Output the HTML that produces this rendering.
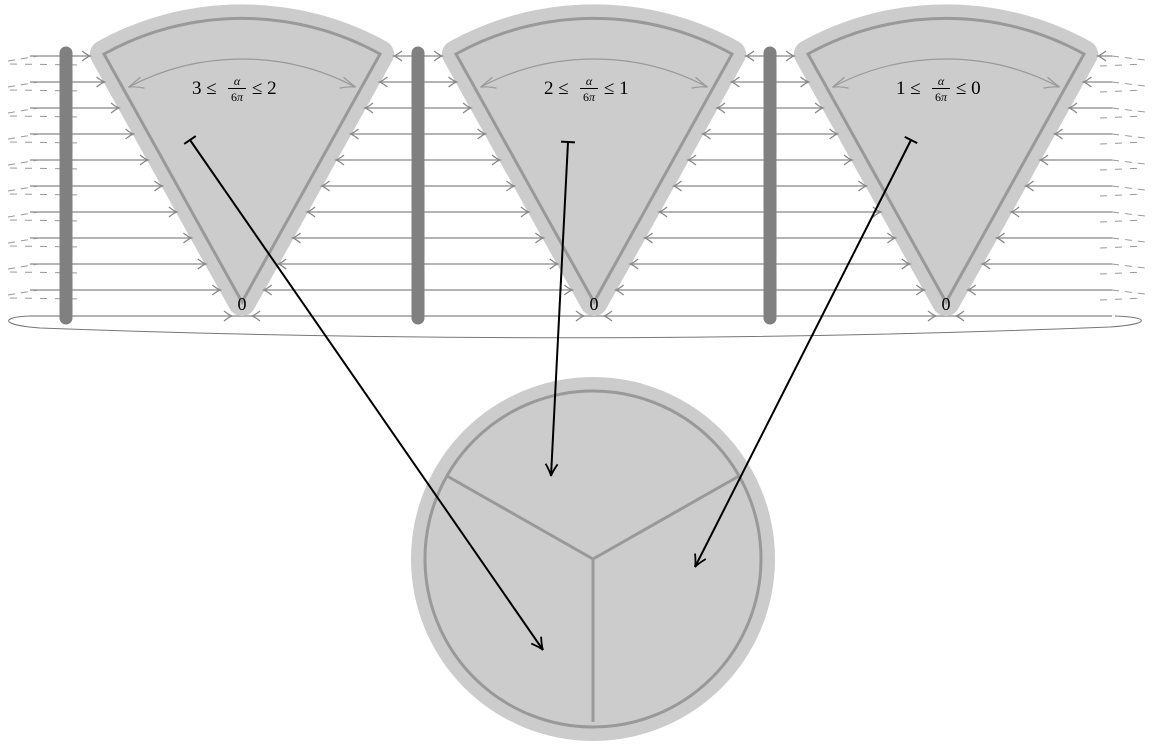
<!DOCTYPE html>
<html><head><meta charset="utf-8">
<style>
html,body{margin:0;padding:0;background:#fff;width:1153px;height:746px;overflow:hidden}
svg{display:block}
text{font-family:"Liberation Serif",serif;fill:#000}
</style></head>
<body>
<svg id="s" width="1153" height="746" xmlns="http://www.w3.org/2000/svg"></svg>
<script>
var s=document.getElementById('s');var h='';
var AY=302,R=285,DX=138,DY=248;
var cxs=[242,594,946],bars=[66,418,770];
var ys=[];for(var i=0;i<11;i++)ys.push(56+26*i);
ys.forEach(function(y,i){
 h+='<line x1="30" y1="'+y+'" x2="1112" y2="'+y+'" stroke="#888" stroke-width="1.3"/>';
 if(i<10){
 h+='<path d="M8 '+(y+5)+' L45 '+(y-1)+'" stroke="#999" stroke-width="1" stroke-dasharray="7 6" fill="none"/>';
 h+='<line x1="10" y1="'+(y+8)+'" x2="82" y2="'+(y+9)+'" stroke="#999" stroke-width="1" stroke-dasharray="7 8"/>';
 h+='<path d="M1112 '+y+' L1145 '+(y+4)+'" stroke="#999" stroke-width="1" stroke-dasharray="7 6" fill="none"/>';
 h+='<line x1="1100" y1="'+(y+10)+'" x2="1145" y2="'+(y+8)+'" stroke="#999" stroke-width="1" stroke-dasharray="7 8"/>';
 }
});
h+='<path d="M1115 316 C1150 317 1152 324 1110 327 Q580 348 40 328 C0 325 0 317 30 316" fill="none" stroke="#777" stroke-width="1"/>';
cxs.forEach(function(cx){
 var L=(cx-DX)+','+(AY-DY),Rt=(cx+DX)+','+(AY-DY);
 var d='M'+cx+','+AY+' L'+L+' A'+R+','+R+' 0 0 1 '+Rt+' Z';
 h+='<path d="'+d+'" fill="#ccc" stroke="#ccc" stroke-width="28" stroke-linejoin="round"/>';
 h+='<path d="'+d+'" fill="#ccc" stroke="#999" stroke-width="3" stroke-linejoin="miter"/>';
 var r2=243,a=0.486;
 var x1=cx-r2*Math.sin(a),y1=AY-r2*Math.cos(a),x2=cx+r2*Math.sin(a);
 h+='<path d="M'+x1+','+y1+' A'+r2+','+r2+' 0 0 1 '+x2+','+y1+'" fill="none" stroke="#999" stroke-width="1.2"/>';
 h+='<path d="M'+(x1+12)+','+(y1-10)+' Q'+(x1+4)+','+(y1-3)+' '+x1+','+y1+' Q'+(x1+7)+','+(y1-1)+' '+(x1+16)+','+(y1+1)+'" fill="none" stroke="#999" stroke-width="1.2"/>';
 h+='<path d="M'+(x2-12)+','+(y1-10)+' Q'+(x2-4)+','+(y1-3)+' '+x2+','+y1+' Q'+(x2-7)+','+(y1-1)+' '+(x2-16)+','+(y1+1)+'" fill="none" stroke="#999" stroke-width="1.2"/>';
 ys.forEach(function(y){
  var t=(y-(AY-DY))/DY;if(t<0)t=0;
  var xl=cx-DX+DX*t-15, xr=cx+DX-DX*t+15;
  if(y>=312){xl=cx-10;xr=cx+10;}
  h+='<path d="M'+(xl-8)+','+(y-5)+' Q'+(xl-3)+','+(y-1)+' '+xl+','+y+' Q'+(xl-3)+','+(y+1)+' '+(xl-8)+','+(y+5)+'" fill="none" stroke="#888" stroke-width="1.2"/>';
  h+='<path d="M'+(xr+8)+','+(y-5)+' Q'+(xr+3)+','+(y-1)+' '+xr+','+y+' Q'+(xr+3)+','+(y+1)+' '+(xr+8)+','+(y+5)+'" fill="none" stroke="#888" stroke-width="1.2"/>';
 });
 h+='<text x="'+cx+'" y="310" font-size="18" text-anchor="middle">0</text>';
});
bars.forEach(function(x){h+='<line x1="'+x+'" y1="53" x2="'+x+'" y2="318" stroke="#808080" stroke-width="13" stroke-linecap="round"/>';});
var labs=[['3','2'],['2','1'],['1','0']];
cxs.forEach(function(cx,i){
 var x=cx-50;
 h+='<text x="'+x+'" y="94" font-size="19">'+labs[i][0]+' ≤</text>';
 h+='<text x="'+(x+45)+'" y="85" font-size="12" font-style="italic" text-anchor="middle">α</text>';
 h+='<line x1="'+(x+36)+'" y1="88.5" x2="'+(x+54)+'" y2="88.5" stroke="#000" stroke-width="0.9"/>';
 h+='<text x="'+(x+45)+'" y="101" font-size="12" text-anchor="middle">6<tspan font-style="italic">π</tspan></text>';
 h+='<text x="'+(x+60)+'" y="94" font-size="19">≤ '+labs[i][1]+'</text>';
});
h+='<circle cx="593" cy="559" r="182" fill="#ccc"/>';
h+='<circle cx="593" cy="559" r="168" fill="#ccc" stroke="#999" stroke-width="3"/>';
h+='<line x1="593" y1="559" x2="447" y2="476" stroke="#999" stroke-width="3"/>';
h+='<line x1="593" y1="559" x2="739" y2="476" stroke="#999" stroke-width="3"/>';
h+='<line x1="593" y1="559" x2="593" y2="722" stroke="#999" stroke-width="3"/>';
function arr(x1,y1,x2,y2){
 var dx=x2-x1,dy=y2-y1,l=Math.hypot(dx,dy),ux=dx/l,uy=dy/l,px=-uy,py=ux;
 h+='<line x1="'+x1+'" y1="'+y1+'" x2="'+x2+'" y2="'+y2+'" stroke="#000" stroke-width="2"/>';
 h+='<line x1="'+(x1+px*7)+'" y1="'+(y1+py*7)+'" x2="'+(x1-px*7)+'" y2="'+(y1-py*7)+'" stroke="#000" stroke-width="2"/>';
 var bx=x2-ux*12,by=y2-uy*12;
 h+='<path d="M'+(bx+px*6)+','+(by+py*6)+' Q'+(x2-ux*4+px*1)+','+(y2-uy*4+py*1)+' '+x2+','+y2+' Q'+(x2-ux*4-px*1)+','+(y2-uy*4-py*1)+' '+(bx-px*6)+','+(by-py*6)+'" fill="none" stroke="#000" stroke-width="1.8"/>';
}
arr(190,140,543,650);
arr(568,142,551,476);
arr(911,140,695,567);
s.innerHTML=h;
</script>
</body></html>
